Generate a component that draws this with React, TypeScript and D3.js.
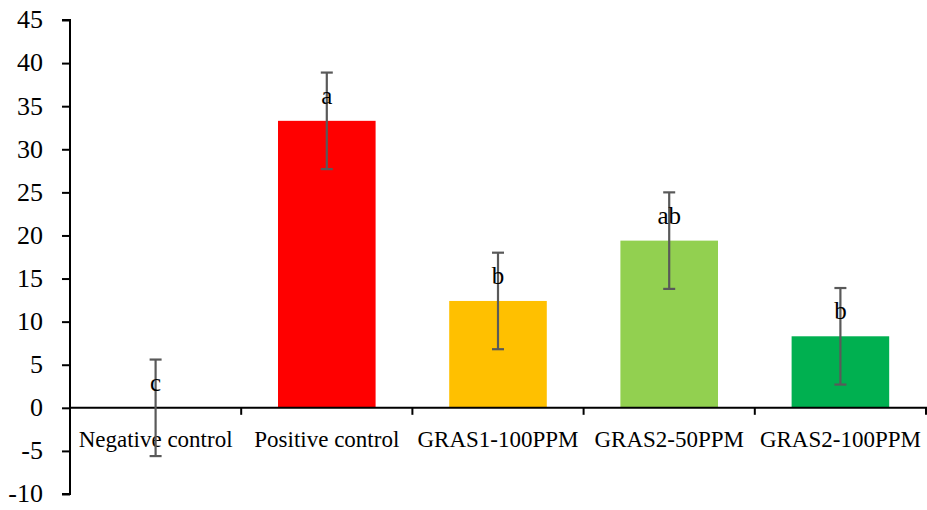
import React, { useEffect, useRef } from 'react';
import * as d3 from 'd3';

// data
const categories = ['Negative control', 'Positive control', 'GRAS1-100PPM', 'GRAS2-50PPM', 'GRAS2-100PPM'];
const means = [0, 33.3, 12.4, 19.4, 8.3];
const errors = [5.6, 5.6, 5.6, 5.6, 5.6];
const letters = ['c', 'a', 'b', 'ab', 'b'];
const barColors = ['#FFFFFF', '#FF0000', '#FFC000', '#92D050', '#00B050'];
const yTicks = [-10, -5, 0, 5, 10, 15, 20, 25, 30, 35, 40, 45];

export default function App() {
  const ref = useRef<SVGSVGElement>(null);

  useEffect(() => {
    const svg = d3.select(ref.current);
    svg.selectAll('*').remove();

    const font = 'Liberation Serif, serif';
    const left = 70, right = 926, top = 20, bottom = 494;

    const x = d3.scaleBand<string>().domain(categories).range([left, right]).paddingInner(0.43).paddingOuter(0.215);
    const xb = d3.scaleBand<string>().domain(categories).range([left, right]);
    const y = d3.scaleLinear().domain([-10, 45]).range([bottom, top]);

    // bars
    svg.append('g')
      .selectAll('rect')
      .data(categories)
      .join('rect')
      .attr('x', d => x(d)!)
      .attr('width', x.bandwidth())
      .attr('y', (d, i) => y(Math.max(0, means[i])))
      .attr('height', (d, i) => Math.abs(y(means[i]) - y(0)))
      .attr('fill', (d, i) => barColors[i]);

    // y axis (ticks from d3, labels drawn separately)
    const yAxis = svg.append('g')
      .attr('transform', `translate(${left},0)`)
      .call(d3.axisLeft(y).tickValues(yTicks).tickSize(8).tickFormat(() => ''));
    yAxis.select('.domain').attr('stroke', '#000').attr('stroke-width', 2).attr('d', `M-8,${y(45)}H0V${y(-10)}H-8`);
    yAxis.selectAll('.tick line').attr('stroke', '#000').attr('stroke-width', 2);
    svg.append('g')
      .attr('font-family', font)
      .attr('font-size', 26)
      .attr('text-anchor', 'end')
      .selectAll('text')
      .data(yTicks)
      .join('text')
      .attr('x', left - 27)
      .attr('y', d => y(d))
      .attr('dy', '0.32em')
      .attr('fill', '#000')
      .text(d => String(d));

    // x axis at zero
    const xAxis = svg.append('g')
      .attr('transform', `translate(0,${y(0)})`)
      .call(d3.axisBottom(xb).tickSize(0).tickPadding(23));
    xAxis.attr('font-family', font).attr('font-size', 23);
    xAxis.select('.domain').attr('stroke', '#000').attr('stroke-width', 2).attr('d', `M${left},0H${right}V7`);
    xAxis.selectAll('.tick text').attr('fill', '#000');
    // boundary ticks between categories
    svg.append('g')
      .selectAll('line')
      .data(categories.slice(1))
      .join('line')
      .attr('x1', d => xb(d)!)
      .attr('x2', d => xb(d)!)
      .attr('y1', y(0))
      .attr('y2', y(0) + 7)
      .attr('stroke', '#000')
      .attr('stroke-width', 2);

    // error bars
    const cx = (d: string) => x(d)! + x.bandwidth() / 2;
    const eb = svg.append('g').attr('stroke', '#595959').attr('stroke-width', 2.2);
    categories.forEach((c, i) => {
      const hi = y(means[i] + errors[i]);
      const lo = y(means[i] - errors[i]);
      eb.append('line').attr('x1', cx(c)).attr('x2', cx(c)).attr('y1', hi).attr('y2', lo);
      eb.append('line').attr('x1', cx(c) - 6).attr('x2', cx(c) + 6).attr('y1', hi).attr('y2', hi);
      eb.append('line').attr('x1', cx(c) - 6).attr('x2', cx(c) + 6).attr('y1', lo).attr('y2', lo);
    });

    // significance letters
    svg.append('g')
      .attr('font-family', font)
      .attr('font-size', 25)
      .attr('text-anchor', 'middle')
      .selectAll('text')
      .data(categories)
      .join('text')
      .attr('x', d => cx(d))
      .attr('y', (d, i) => y(means[i] + errors[i] - 2.6))
      .attr('dy', '0.35em')
      .attr('fill', '#000')
      .text((d, i) => letters[i]);
  }, []);

  return (
    <svg ref={ref} width={927} height={510}
      style={{ position: 'absolute', left: 0, top: 0, background: '#fff' }} />
  );
}
